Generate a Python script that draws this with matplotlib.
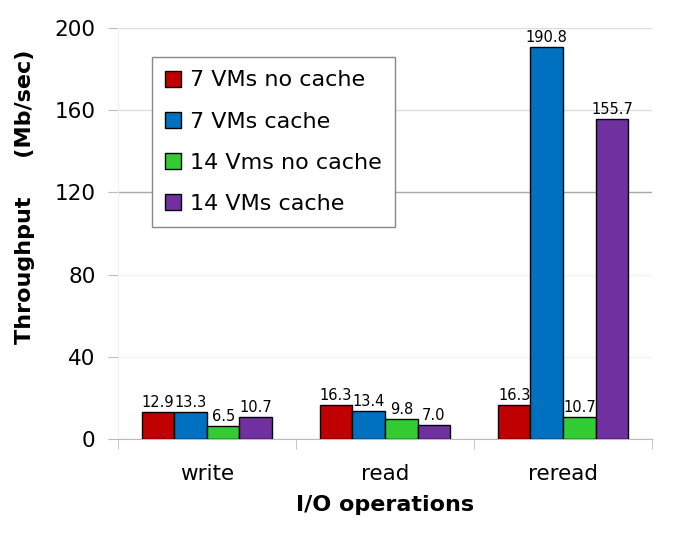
import matplotlib
matplotlib.use("Agg")
import matplotlib.pyplot as plt
import numpy as np

categories = ["write", "read", "reread"]
series_names = ["7 VMs no cache", "7 VMs cache", "14 Vms no cache", "14 VMs cache"]
vm7_nocache = [12.9, 16.3, 16.3]
vm7_cache = [13.3, 13.4, 190.8]
vm14_nocache = [6.5, 9.8, 10.7]
vm14_cache = [10.7, 7.0, 155.7]
y_ticks = [0, 40, 80, 120, 160, 200]

series = [vm7_nocache, vm7_cache, vm14_nocache, vm14_cache]
colors = ["#C00000", "#0070C0", "#33CC33", "#7030A0"]

plt.rcParams['font.family'] = ['DejaVu Sans']

fig = plt.figure(figsize=(6.93, 5.36), dpi=100)
ax = fig.add_axes([0.170, 0.181, 0.771, 0.767])

x = np.arange(len(categories))
bw = 0.183
for i, (vals, c, name) in enumerate(zip(series, colors, series_names)):
    offs = (i - 1.5) * bw
    ax.bar(x + offs, vals, width=bw, color=c, edgecolor="black",
           linewidth=1.0, label=name, zorder=3)
    for xi, v in zip(x + offs, vals):
        ax.text(xi, v + 1.0, f"{v:.1f}", ha="center", va="bottom",
                fontsize=10.5, zorder=4)

ax.set_xlim(-0.5, 2.5)
ax.set_ylim(0, 200)
ax.set_yticks(y_ticks)
ax.tick_params(axis="y", labelsize=15.5, length=7, color="#BBBBBB", pad=9)
ax.yaxis.grid(True, color="#DDDDDD", linewidth=1.0, zorder=0)
ax.set_axisbelow(True)
grid_cols = {0: "#DDDDDD", 40: "#F4F4F4", 80: "#F4F4F4", 120: "#A8A8A8",
             160: "#DDDDDD", 200: "#DDDDDD"}
for gl, t in zip(ax.get_ygridlines(), y_ticks):
    gl.set_color(grid_cols[t])

ax.set_xticks(x)
ax.set_xticklabels(categories)
ax.set_xticks(np.arange(-0.5, len(categories), 1.0), minor=True)
ax.tick_params(axis="x", which="major", length=0, labelsize=15.5, pad=18)
ax.tick_params(axis="x", which="minor", length=7, color="#BBBBBB")

for s in ["top", "right"]:
    ax.spines[s].set_visible(False)
ax.spines["left"].set_color("#F0F0F0")
ax.spines["bottom"].set_color("#BBBBBB")

ax.set_xlabel("I/O operations", fontsize=16, fontweight="bold", labelpad=8)
ax.set_ylabel("Throughput     (Mb/sec)", fontsize=16, fontweight="bold")
ax.yaxis.set_label_coords(-0.155, 0.59)

leg = ax.legend(loc="upper left", bbox_to_anchor=(0.064, 0.929), fontsize=16,
                frameon=True, fancybox=False, edgecolor="#888888",
                handlelength=0.72, handleheight=0.72, handletextpad=0.4,
                labelspacing=0.95, borderpad=0.6, framealpha=1.0,
                borderaxespad=0.0)
leg.get_frame().set_linewidth(1.0)
leg.set_zorder(5)

fig.savefig("out.png", dpi=100)
